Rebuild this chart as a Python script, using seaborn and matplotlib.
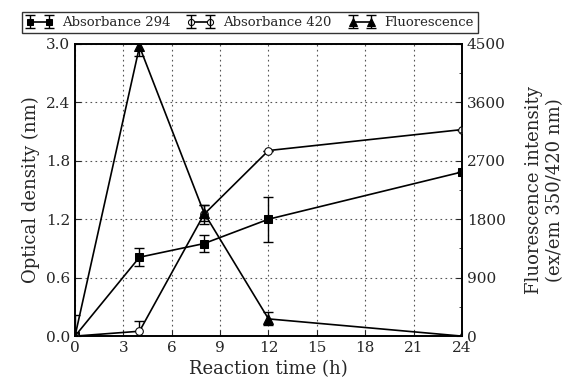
import numpy as np
import pandas as pd
import seaborn as sns
from matplotlib import pyplot as plt
from matplotlib.legend_handler import HandlerTuple
from matplotlib.ticker import MultipleLocator

# data
time_h = [0, 4, 8, 12, 24]
abs294 = [0.0, 0.81, 0.95, 1.20, 1.685]
abs294_err = [0.0, 0.09, 0.09, 0.23, 0.0]
abs420 = [0.0, 0.05, 1.25, 1.905, 2.12]
abs420_err = [0.0, 0.11, 0.10, 0.0, 0.0]
fluor = [0, 4460, 1900, 265, 0]
fluor_err = [330, 150, 120, 100, 0]

sns.set_style("ticks")
plt.rcParams['font.family'] = ['DejaVu Serif']

fig = plt.figure(figsize=(5.64, 3.85), dpi=100)
ax = fig.add_axes([0.133, 0.127, 0.686, 0.759])
ax2 = ax.twinx()

df = pd.DataFrame({'t': time_h, 'a294': abs294, 'a420': abs420, 'fl': fluor})

# lines and markers
sns.lineplot(data=df, x='t', y='a294', ax=ax, color='black', lw=1.2,
             marker='s', markersize=6, markeredgecolor='black', zorder=3)
sns.lineplot(data=df, x='t', y='a420', ax=ax, color='black', lw=1.2,
             marker='o', markersize=5.5, markerfacecolor='white',
             markeredgecolor='black', zorder=3)
sns.lineplot(data=df, x='t', y='fl', ax=ax2, color='black', lw=1.2,
             marker='^', markersize=7, markeredgecolor='black', zorder=3)
l294, l420 = ax.lines[0], ax.lines[1]
lfl = ax2.lines[0]

# error bars
e294 = ax.errorbar(time_h, abs294, yerr=abs294_err, fmt='none', ecolor='black',
                   elinewidth=1.0, capsize=3.5, zorder=2)
e420 = ax.errorbar(time_h, abs420, yerr=abs420_err, fmt='none', ecolor='black',
                   elinewidth=1.0, capsize=3.5, zorder=2)
efl = ax2.errorbar(time_h, fluor, yerr=fluor_err, fmt='none', ecolor='black',
                   elinewidth=1.0, capsize=3.5, zorder=2)

ax.set_xlim(0, 24)
ax.set_ylim(0, 3.0)
ax2.set_ylim(0, 4500)
ax.set_xticks(np.arange(0, 25, 3))
ax.set_yticks(np.arange(0, 3.01, 0.6))
ax.set_yticklabels([f"{v:.1f}" for v in np.arange(0, 3.01, 0.6)])
ax2.set_yticks(np.arange(0, 4501, 900))
ax2.yaxis.set_minor_locator(MultipleLocator(450))

ax.grid(True, linestyle=(0, (1.5, 3)), color='#555555', lw=0.8)
ax.tick_params(direction='in', labelsize=11, length=4)
ax2.tick_params(direction='in', labelsize=11, length=4)
ax2.tick_params(which='minor', direction='in', length=2)
ax.set_xlabel('Reaction time (h)', fontsize=13)
ax.set_ylabel('Optical density (nm)', fontsize=13)
ax2.set_ylabel('Fluorescence intensity\n(ex/em 350/420 nm)', fontsize=13,
               labelpad=14)

for a in (ax, ax2):
    for s in a.spines.values():
        s.set_color('black')
        s.set_linewidth(1.2)

leg = fig.legend([(l294, e294), (l420, e420), (lfl, efl)],
                 ['Absorbance 294', 'Absorbance 420', 'Fluorescence'],
                 handler_map={tuple: HandlerTuple(ndivide=1)}, numpoints=2,
                 markerscale=0.8,
                 loc='upper center', bbox_to_anchor=(0.443, 0.985), ncol=3,
                 fontsize=9.5, frameon=True, fancybox=False, edgecolor='black',
                 handlelength=2.0, columnspacing=1.3, borderpad=0.3,
                 handletextpad=0.7)
leg.get_frame().set_linewidth(1.0)

fig.savefig('out.png', dpi=100)
